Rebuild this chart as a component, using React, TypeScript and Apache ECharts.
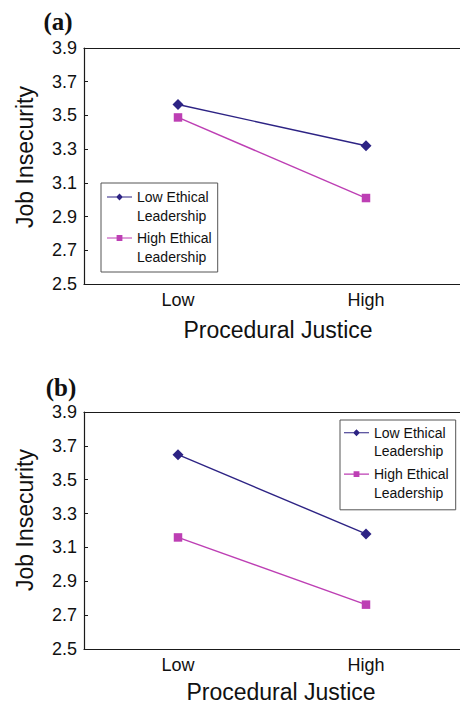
import React, { useEffect, useRef } from "react";
import * as echarts from "echarts";

const categories = ["Low", "High"];
const seriesNames = ["Low Ethical\nLeadership", "High Ethical\nLeadership"];
const panelA_low = [3.565, 3.32];
const panelA_high = [3.488, 3.01];
const panelB_low = [3.648, 3.18];
const panelB_high = [3.159, 2.762];
const yTicks = { min: 2.5, max: 3.9, step: 0.2 };
const panelLabels = ["(a)", "(b)"];
const xTitle = "Procedural Justice";
const yTitle = "Job Insecurity";

const NAVY = "#2d2384";
const MAGENTA = "#bd3fb4";
const FONT = "Liberation Sans, Arial, sans-serif";

// legend icon: a line with a marker placed at the first text line of a 2-line label
function legendIcon(kind: "diamond" | "square", w: number, lh: number) {
  const h = lh * 2;
  const cy = lh / 2;
  const cx = w / 2;
  const t = 0.6;
  let marker = "";
  if (kind === "diamond") {
    const r = 3.4;
    marker = `M${cx} ${cy - r} L${cx + r} ${cy} L${cx} ${cy + r} L${cx - r} ${cy} Z`;
  } else {
    const r = 2.9;
    marker = `M${cx - r} ${cy - r} L${cx + r} ${cy - r} L${cx + r} ${cy + r} L${cx - r} ${cy + r} Z`;
  }
  const line = `M0 ${cy - t} L${w} ${cy - t} L${w} ${cy + t} L0 ${cy + t} Z`;
  const anchors = `M0 0 L0.01 0 L0 0.01 Z M0 ${h} L0.01 ${h} L0 ${h - 0.01} Z`;
  return `path://${anchors} ${line} ${marker}`;
}

export default function App() {
  const ref = useRef<HTMLDivElement>(null);
  useEffect(() => {
    if (!ref.current) return;
    const chart = echarts.init(ref.current, undefined, { renderer: "svg" });
    const grids = [
      { left: 84, top: 48, width: 382, height: 236 },
      { left: 84, top: 412, width: 382, height: 237 },
    ];
    const xAxes: any[] = [];
    const yAxes: any[] = [];
    grids.forEach((_, i) => {
      xAxes.push({
        type: "category",
        gridIndex: i,
        data: categories,
        position: "bottom",
        axisLine: { lineStyle: { color: "#1a1a1a", width: 1.2 } },
        axisTick: { inside: true, length: 7, lineStyle: { color: "#888", width: 1.5 } },
        axisLabel: { fontFamily: FONT, fontSize: 18, color: "#111", margin: 7 },
      });
      xAxes.push({
        type: "category",
        gridIndex: i,
        data: categories,
        position: "top",
        axisLine: { lineStyle: { color: "#1a1a1a", width: 1.2 } },
        axisTick: { show: false },
        axisLabel: { show: false },
      });
      yAxes.push({
        type: "value",
        gridIndex: i,
        min: yTicks.min,
        max: yTicks.max,
        interval: yTicks.step,
        axisLine: { show: true, lineStyle: { color: "#1a1a1a", width: 1.2 } },
        axisTick: { show: true, inside: true, length: 4, lineStyle: { color: "#1a1a1a" } },
        splitLine: { show: false },
        axisLabel: {
          fontFamily: FONT,
          fontSize: 18,
          color: "#111",
          margin: 7,
          formatter: (v: number) => v.toFixed(1),
        },
      });
    });
    const mk = (name: string, data: number[], idx: number, color: string, symbol: string, size: number) => ({
      type: "line",
      name,
      data,
      xAxisIndex: idx * 2,
      yAxisIndex: idx,
      symbol,
      symbolSize: size,
      lineStyle: { color, width: 1.4 },
      itemStyle: { color },
    });
    const legendFor = (lh: number) => ({
      orient: "vertical",
      itemWidth: 25,
      itemHeight: lh * 2,
      borderColor: "#555",
      borderWidth: 1,
      backgroundColor: "#fff",
      selectedMode: false,
      itemStyle: { borderWidth: 0 },
      data: [
        { name: seriesNames[0], icon: legendIcon("diamond", 25, lh) },
        { name: seriesNames[1], icon: legendIcon("square", 25, lh) },
      ],
      textStyle: { fontFamily: FONT, fontSize: 14, color: "#111", lineHeight: lh },
    });
    chart.setOption({
      animation: false,
      grid: grids,
      xAxis: xAxes,
      yAxis: yAxes,
      legend: [
        {
          ...legendFor(19),
          left: 101,
          top: 183,
          itemGap: 3,
          padding: [4.5, 6, 5.5, 6],
        },
        {
          ...legendFor(18.5),
          left: 340,
          top: 420,
          itemGap: 4.3,
          padding: [3.5, 7, 8, 4],
        },
      ],
      series: [
        mk(seriesNames[0], panelA_low, 0, NAVY, "diamond", 11),
        mk(seriesNames[1], panelA_high, 0, MAGENTA, "rect", 8.5),
        mk(seriesNames[0], panelB_low, 1, NAVY, "diamond", 11),
        mk(seriesNames[1], panelB_high, 1, MAGENTA, "rect", 8.5),
      ],
      graphic: [
        { type: "text", x: 58, y: 21, style: { text: panelLabels[0], font: "bold 25px 'Liberation Serif', serif", fill: "#111", align: "center", verticalAlign: "middle" } },
        { type: "text", x: 61, y: 387, style: { text: panelLabels[1], font: "bold 25px 'Liberation Serif', serif", fill: "#111", align: "center", verticalAlign: "middle" } },
        { type: "text", x: 25, y: 157, rotation: Math.PI / 2, style: { text: yTitle, font: `23px ${FONT}`, fill: "#111", align: "center", verticalAlign: "middle" } },
        { type: "text", x: 25, y: 520, rotation: Math.PI / 2, style: { text: yTitle, font: `23px ${FONT}`, fill: "#111", align: "center", verticalAlign: "middle" } },
        { type: "text", x: 278, y: 330, style: { text: xTitle, font: `23px ${FONT}`, fill: "#111", align: "center", verticalAlign: "middle" } },
        { type: "text", x: 281, y: 692, style: { text: xTitle, font: `23px ${FONT}`, fill: "#111", align: "center", verticalAlign: "middle" } },
      ],
    });
    return () => chart.dispose();
  }, []);
  return (
    <div
      ref={ref}
      style={{ position: "absolute", left: 0, top: 0, width: 460, height: 705, background: "#fff" }}
    />
  );
}
